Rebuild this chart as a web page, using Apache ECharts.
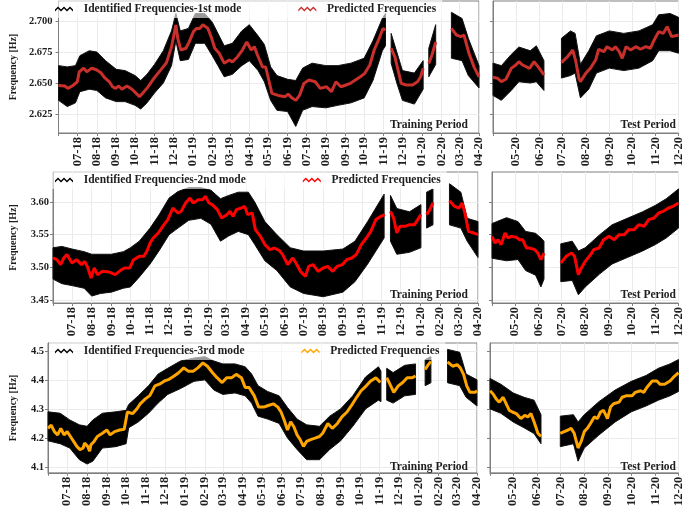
<!DOCTYPE html>
<html><head><meta charset="utf-8">
<script src="https://cdn.jsdelivr.net/npm/echarts@6/dist/echarts.min.js"></script>
<style>html,body{margin:0;padding:0;background:#fff}#c{width:685px;height:509px}</style>
</head><body><div id="c"></div>
<script>
// ---------------- DATA ----------------
const ticks1 = [2.625, 2.650, 2.675, 2.700];
const ticks2 = [3.45, 3.50, 3.55, 3.60];
const ticks3 = [4.1, 4.2, 4.3, 4.4, 4.5];

const trainRange = ['2018-06-01', '2020-04-01'];
const testRange = ['2020-04-01', '2020-12-01'];

const legendNames = ['Identified Frequencies-1st mode', 'Identified Frequencies-2nd mode', 'Identified Frequencies-3rd mode'];
const predName = 'Predicted Frequencies';
const periodNames = ['Training Period', 'Test Period'];

// predicted frequencies, mode 1
const pred1Train = [
['2018-06-01',2.648],['2018-06-11',2.6476],['2018-06-16',2.6457],['2018-06-24',2.648],['2018-07-01',2.651],['2018-07-04',2.659],['2018-07-11',2.662],['2018-07-16',2.659],['2018-07-24',2.662],['2018-08-01',2.6605],['2018-08-08',2.658],['2018-08-13',2.6546],['2018-08-21',2.651],['2018-08-26',2.647],['2018-08-31',2.6457],['2018-09-05',2.6476],['2018-09-10',2.645],['2018-09-18',2.6476],['2018-09-26',2.645],['2018-10-02',2.642],['2018-10-08',2.639],['2018-10-13',2.6417],['2018-10-21',2.6465],['2018-10-31',2.6538],['2018-11-10',2.660],['2018-11-20',2.6664],['2018-11-28',2.679],['2018-12-05',2.6968],['2018-12-08',2.686],['2018-12-13',2.6766],['2018-12-21',2.678],['2018-12-26',2.683],['2019-01-02',2.6914],['2019-01-07',2.694],['2019-01-12',2.694],['2019-01-17',2.697],['2019-01-25',2.694],['2019-01-31',2.686],['2019-02-05',2.678],['2019-02-12',2.674],['2019-02-20',2.666],['2019-02-28',2.6685],['2019-03-05',2.667],['2019-03-13',2.671],['2019-03-21',2.6766],['2019-03-28',2.683],['2019-04-04',2.6766],['2019-04-09',2.6793],['2019-04-14',2.6726],['2019-04-22',2.663],['2019-04-27',2.663],['2019-05-02',2.6524],['2019-05-07',2.6416],['2019-05-17',2.640],['2019-05-28',2.639],['2019-06-02',2.641],['2019-06-07',2.6384],['2019-06-14',2.636],['2019-06-20',2.640],['2019-06-27',2.6497],['2019-07-05',2.6524],['2019-07-15',2.651],['2019-07-23',2.6457],['2019-08-02',2.647],['2019-08-10',2.643],['2019-08-17',2.651],['2019-08-25',2.647],['2019-09-02',2.6484],['2019-09-09',2.6497],['2019-09-17',2.6524],['2019-09-25',2.655],['2019-10-02',2.6578],['2019-10-10',2.6645],['2019-10-17',2.6766],['2019-10-25',2.686],['2019-10-31',2.694],['2019-11-04',2.6927],['2019-11-08',null],['2019-11-13',2.678],['2019-11-19',2.671],['2019-11-24',2.6605],['2019-11-29',2.6497],['2019-12-07',2.6484],['2019-12-17',2.6484],['2019-12-25',2.651],['2019-12-30',2.655],['2020-01-03',2.6618],['2020-01-07',null],['2020-01-12',2.6658],['2020-01-17',2.6726],['2020-01-23',2.683],['2020-02-05',null],['2020-02-17',2.694],['2020-02-25',2.6887],['2020-03-03',2.6874],['2020-03-08',2.6887],['2020-03-16',2.674],['2020-03-24',2.663],['2020-04-01',2.655]
];
const pred1Test = [
['2020-04-01',2.6546],['2020-04-07',2.6538],['2020-04-12',2.6511],['2020-04-18',2.653],['2020-04-25',2.6618],['2020-05-01',2.6645],['2020-05-05',2.6672],['2020-05-10',2.6645],['2020-05-19',2.6618],['2020-05-25',2.6672],['2020-06-01',2.6618],['2020-06-07',2.6565],['2020-06-18',null],['2020-06-30',2.6664],['2020-07-08',2.6712],['2020-07-15',2.6766],['2020-07-19',2.6672],['2020-07-23',2.6538],['2020-07-25',2.6511],['2020-08-01',2.6578],['2020-08-07',2.6618],['2020-08-14',2.6685],['2020-08-18',2.6772],['2020-08-25',2.6753],['2020-08-29',2.6793],['2020-09-05',2.6766],['2020-09-09',2.6793],['2020-09-14',2.6753],['2020-09-18',2.6699],['2020-09-23',2.6793],['2020-09-29',2.6766],['2020-10-06',2.6793],['2020-10-12',2.6772],['2020-10-19',2.6793],['2020-10-25',2.678],['2020-10-30',2.6847],['2020-11-05',2.6914],['2020-11-11',2.690],['2020-11-16',2.6954],['2020-11-22',2.6874],['2020-12-01',2.6887]
];
// identified frequencies (cloud envelope: date, lower, upper), mode 1
const cloud1Train = [
['2018-06-01',2.636,2.664],['2018-06-15',2.631,2.663],['2018-06-28',2.634,2.664],['2018-07-05',2.643,2.672],['2018-07-20',2.645,2.676],['2018-08-01',2.644,2.675],['2018-08-15',2.638,2.668],['2018-09-01',2.635,2.661],['2018-09-15',2.635,2.660],['2018-10-01',2.632,2.656],['2018-10-10',2.629,2.652],['2018-10-20',2.634,2.657],['2018-11-01',2.642,2.665],['2018-11-15',2.650,2.676],['2018-11-28',2.664,2.692],['2018-12-05',2.684,2.706],['2018-12-12',2.668,2.692],['2018-12-25',2.669,2.694],['2019-01-05',2.682,2.706],['2019-01-20',2.682,2.706],['2019-02-01',2.672,2.699],['2019-02-10',2.664,2.690],['2019-02-20',2.655,2.680],['2019-03-05',2.657,2.682],['2019-03-20',2.664,2.692],['2019-04-01',2.668,2.697],['2019-04-15',2.660,2.688],['2019-04-25',2.651,2.681],['2019-05-05',2.636,2.663],['2019-05-15',2.628,2.656],['2019-06-01',2.627,2.653],['2019-06-14',2.615,2.652],['2019-06-25',2.628,2.662],['2019-07-10',2.631,2.666],['2019-08-01',2.630,2.664],['2019-08-20',2.632,2.664],['2019-09-10',2.634,2.666],['2019-10-01',2.638,2.670],['2019-10-15',2.652,2.684],['2019-10-30',2.676,2.702],['2019-11-04',2.680,2.706],['2019-11-08',null,null],['2019-11-13',2.666,2.690],['2019-11-22',2.650,2.675],['2019-12-01',2.636,2.660],['2019-12-20',2.633,2.658],['2020-01-03',2.645,2.668],['2020-01-07',null,null],['2020-01-12',2.655,2.678],['2020-01-23',2.665,2.697],['2020-02-05',null,null],['2020-02-17',2.670,2.707],['2020-03-05',2.668,2.702],['2020-03-15',2.656,2.686],['2020-04-01',2.646,2.664]
];
const cloud1Test = [
['2020-04-01',2.640,2.666],['2020-04-12',2.636,2.664],['2020-04-25',2.644,2.673],['2020-05-05',2.651,2.679],['2020-05-20',2.650,2.676],['2020-05-28',2.651,2.680],['2020-06-07',2.644,2.668],['2020-06-18',null,null],['2020-06-30',2.654,2.686],['2020-07-12',2.656,2.692],['2020-07-18',2.658,2.690],['2020-07-25',2.638,2.665],['2020-08-05',2.645,2.676],['2020-08-15',2.658,2.688],['2020-09-01',2.662,2.692],['2020-09-20',2.660,2.690],['2020-10-10',2.662,2.692],['2020-10-28',2.668,2.697],['2020-11-05',2.676,2.705],['2020-11-20',2.676,2.706],['2020-12-01',2.674,2.703]
];

// mode 2
const pred2Train = [
['2018-06-01',3.5143],['2018-06-07',3.5117],['2018-06-13',3.5041],['2018-06-18',3.5143],['2018-06-23',3.5194],['2018-07-01',3.5066],['2018-07-08',3.5117],['2018-07-16',3.5041],['2018-07-21',3.5092],['2018-07-26',3.499],['2018-07-31',3.4837],['2018-08-05',3.499],['2018-08-10',3.4888],['2018-08-18',3.4939],['2018-08-28',3.4929],['2018-09-07',3.4888],['2018-09-17',3.4964],['2018-09-22',3.499],['2018-09-30',3.499],['2018-10-06',3.5117],['2018-10-15',3.5168],['2018-10-22',3.5168],['2018-10-27',3.5245],['2018-11-01',3.5372],['2018-11-06',3.5449],['2018-11-14',3.5526],['2018-11-21',3.5628],['2018-11-29',3.573],['2018-12-07',3.5908],['2018-12-15',3.5832],['2018-12-20',3.5857],['2018-12-27',3.5985],['2019-01-03',3.6061],['2019-01-08',3.5985],['2019-01-16',3.6036],['2019-01-23',3.6036],['2019-01-27',3.6087],['2019-02-02',3.5985],['2019-02-07',3.5959],['2019-02-15',3.5883],['2019-02-22',3.5755],['2019-03-02',3.5806],['2019-03-07',3.5857],['2019-03-12',3.578],['2019-03-17',3.5883],['2019-03-25',3.5908],['2019-03-30',3.5934],['2019-04-04',3.5806],['2019-04-11',3.5832],['2019-04-16',3.5577],['2019-04-24',3.5474],['2019-05-01',3.5347],['2019-05-09',3.527],['2019-05-16',3.5296],['2019-05-24',3.5255],['2019-05-29',3.5194],['2019-06-06',3.5041],['2019-06-14',3.5143],['2019-06-19',3.5066],['2019-06-26',3.4939],['2019-07-04',3.4862],['2019-07-09',3.5015],['2019-07-16',3.5041],['2019-07-24',3.4939],['2019-08-01',3.499],['2019-08-08',3.5015],['2019-08-16',3.4939],['2019-08-23',3.5015],['2019-08-31',3.5041],['2019-09-07',3.5117],['2019-09-15',3.5143],['2019-09-22',3.5194],['2019-09-30',3.5347],['2019-10-08',3.5449],['2019-10-15',3.5551],['2019-10-23',3.573],['2019-10-31',3.578],['2019-11-06',3.5806],['2019-11-10',null],['2019-11-15',3.5857],['2019-11-20',3.5755],['2019-11-25',3.5526],['2019-11-30',3.5628],['2019-12-08',3.5628],['2019-12-15',3.5653],['2019-12-23',3.5653],['2019-12-28',3.573],['2020-01-02',3.5806],['2020-01-06',null],['2020-01-11',3.5806],['2020-01-16',3.5883],['2020-01-21',3.5985],['2020-02-05',null],['2020-02-16',3.602],['2020-02-24',3.5934],['2020-03-02',3.5908],['2020-03-07',3.5985],['2020-03-12',3.5806],['2020-03-17',3.5551],['2020-03-25',3.5526],['2020-04-01',3.55]
];
const pred2Test = [
['2020-04-01',3.5474],['2020-04-05',3.5372],['2020-04-09',3.5423],['2020-04-13',3.5347],['2020-04-18',3.5526],['2020-04-22',3.5449],['2020-04-26',3.5474],['2020-05-03',3.5459],['2020-05-07',3.5423],['2020-05-11',3.5423],['2020-05-16',3.5296],['2020-05-20',3.5296],['2020-05-27',3.527],['2020-05-31',3.5219],['2020-06-04',3.5117],['2020-06-08',3.5219],['2020-06-18',null],['2020-06-30',3.5066],['2020-07-07',3.5168],['2020-07-14',3.5219],['2020-07-18',3.5168],['2020-07-23',3.4888],['2020-07-27',3.499],['2020-08-01',3.5092],['2020-08-08',3.5194],['2020-08-12',3.527],['2020-08-19',3.5296],['2020-08-25',3.5423],['2020-09-01',3.5474],['2020-09-08',3.5423],['2020-09-14',3.55],['2020-09-21',3.55],['2020-09-27',3.5577],['2020-10-04',3.5577],['2020-10-10',3.5653],['2020-10-17',3.5628],['2020-10-23',3.573],['2020-10-30',3.5755],['2020-11-05',3.5832],['2020-11-11',3.5857],['2020-11-18',3.5908],['2020-11-24',3.5934],['2020-12-01',3.5985]
];
const cloud2Train = [
['2018-06-01',3.482,3.530],['2018-06-15',3.475,3.532],['2018-07-01',3.472,3.528],['2018-07-20',3.468,3.524],['2018-08-01',3.456,3.520],['2018-08-15',3.460,3.520],['2018-09-01',3.462,3.520],['2018-09-20',3.468,3.524],['2018-10-01',3.470,3.530],['2018-10-15',3.485,3.540],['2018-11-01',3.505,3.560],['2018-11-15',3.525,3.580],['2018-12-01',3.550,3.606],['2018-12-15',3.560,3.616],['2019-01-01',3.572,3.622],['2019-01-20',3.575,3.622],['2019-02-05',3.566,3.618],['2019-02-20',3.540,3.605],['2019-03-05',3.548,3.610],['2019-03-20',3.555,3.615],['2019-04-05',3.550,3.615],['2019-04-15',3.535,3.600],['2019-05-01',3.510,3.570],['2019-05-20',3.495,3.550],['2019-06-10',3.470,3.530],['2019-07-01',3.460,3.525],['2019-08-01',3.455,3.525],['2019-09-01',3.462,3.528],['2019-09-20',3.478,3.540],['2019-10-10',3.505,3.570],['2019-11-05',3.545,3.612],['2019-11-10',null,null],['2019-11-15',3.540,3.610],['2019-11-25',3.520,3.590],['2019-12-15',3.523,3.585],['2020-01-02',3.530,3.596],['2020-01-06',null,null],['2020-01-11',3.560,3.615],['2020-01-21',3.565,3.620],['2020-02-05',null,null],['2020-02-16',3.565,3.628],['2020-03-05',3.560,3.615],['2020-03-15',3.540,3.575],['2020-04-01',3.515,3.570]
];
const cloud2Test = [
['2020-04-01',3.514,3.567],['2020-04-20',3.510,3.576],['2020-05-05',3.512,3.570],['2020-05-15',3.495,3.555],['2020-05-28',3.488,3.552],['2020-06-04',3.470,3.545],['2020-06-08',3.482,3.540],['2020-06-18',null,null],['2020-06-30',3.478,3.536],['2020-07-15',3.480,3.540],['2020-07-23',3.458,3.525],['2020-08-01',3.470,3.530],['2020-08-20',3.490,3.550],['2020-09-05',3.505,3.565],['2020-09-25',3.515,3.575],['2020-10-15',3.525,3.585],['2020-11-01',3.535,3.595],['2020-11-15',3.545,3.605],['2020-12-01',3.560,3.620]
];

// mode 3
const pred3Train = [
['2018-06-01',4.233],['2018-06-06',4.2442],['2018-06-11',4.2217],['2018-06-16',4.2104],['2018-06-21',4.233],['2018-06-26',4.2104],['2018-07-01',4.2217],['2018-07-06',4.2048],['2018-07-11',4.1879],['2018-07-16',4.171],['2018-07-21',4.1597],['2018-07-26',4.1653],['2018-07-28',4.1822],['2018-08-02',4.171],['2018-08-05',4.1541],['2018-08-07',4.1766],['2018-08-12',4.1879],['2018-08-17',4.2048],['2018-08-25',4.216],['2018-09-01',4.2273],['2018-09-06',4.2104],['2018-09-13',4.2217],['2018-09-21',4.2273],['2018-09-28',4.2296],['2018-10-03',4.2893],['2018-10-11',4.2837],['2018-10-18',4.3006],['2018-10-23',4.3175],['2018-10-31',4.3344],['2018-11-07',4.3456],['2018-11-15',4.3794],['2018-11-22',4.3851],['2018-11-30',4.3963],['2018-12-07',4.402],['2018-12-15',4.4132],['2018-12-22',4.4245],['2018-12-30',4.4414],['2019-01-06',4.4301],['2019-01-14',4.4301],['2019-01-21',4.4414],['2019-01-29',4.4583],['2019-02-05',4.447],['2019-02-13',4.4245],['2019-02-20',4.4076],['2019-02-28',4.3907],['2019-03-07',4.4076],['2019-03-15',4.4076],['2019-03-22',4.4189],['2019-03-30',4.4076],['2019-04-05',4.3738],['2019-04-11',4.3738],['2019-04-19',4.3456],['2019-04-26',4.3062],['2019-05-04',4.3062],['2019-05-11',4.3118],['2019-05-19',4.3175],['2019-05-26',4.3062],['2019-05-31',4.2893],['2019-06-05',4.2611],['2019-06-10',4.2273],['2019-06-15',4.2555],['2019-06-20',4.2386],['2019-06-25',4.2104],['2019-06-30',4.1935],['2019-07-05',4.171],['2019-07-10',4.1879],['2019-07-15',4.1935],['2019-07-23',4.1991],['2019-07-30',4.2048],['2019-08-04',4.216],['2019-08-12',4.2498],['2019-08-19',4.233],['2019-08-27',4.2498],['2019-09-03',4.2724],['2019-09-11',4.2893],['2019-09-18',4.3118],['2019-09-26',4.34],['2019-10-03',4.3625],['2019-10-11',4.3794],['2019-10-18',4.3963],['2019-10-26',4.4076],['2019-11-02',4.3907],['2019-11-07',null],['2019-11-12',4.4076],['2019-11-17',4.3851],['2019-11-23',4.3569],['2019-11-30',4.3794],['2019-12-07',4.3907],['2019-12-14',4.4076],['2019-12-22',4.4076],['2019-12-27',4.4132],['2020-01-04',null],['2020-01-11',4.4358],['2020-01-16',4.4527],['2020-01-20',4.4639],['2020-02-03',null],['2020-02-15',4.4617],['2020-02-23',4.447],['2020-03-01',4.4527],['2020-03-06',4.4414],['2020-03-11',4.4189],['2020-03-16',4.3794],['2020-03-21',4.3569],['2020-03-29',4.3569],['2020-04-01',4.3625]
];
const pred3Test = [
['2020-04-01',4.3625],['2020-04-05',4.3513],['2020-04-09',4.3344],['2020-04-13',4.3231],['2020-04-18',4.34],['2020-04-22',4.3175],['2020-04-26',4.2949],['2020-04-30',4.2893],['2020-05-05',4.2837],['2020-05-11',4.2667],['2020-05-16',4.278],['2020-05-20',4.2724],['2020-05-24',4.2837],['2020-05-28',4.2555],['2020-06-02',4.216],['2020-06-06',4.2048],['2020-06-18',null],['2020-07-01',4.216],['2020-07-06',4.2217],['2020-07-11',4.2273],['2020-07-15',4.233],['2020-07-19',4.216],['2020-07-24',4.1653],['2020-07-28',4.1879],['2020-08-01',4.2217],['2020-08-05',4.233],['2020-08-09',4.2498],['2020-08-14',4.2724],['2020-08-18',4.2667],['2020-08-22',4.2893],['2020-08-26',4.2949],['2020-08-31',4.2667],['2020-09-04',4.3062],['2020-09-08',4.3175],['2020-09-15',4.3231],['2020-09-19',4.34],['2020-09-25',4.3456],['2020-10-02',4.3456],['2020-10-06',4.3569],['2020-10-13',4.3625],['2020-10-17',4.3569],['2020-10-21',4.3738],['2020-10-28',4.3963],['2020-11-03',4.3963],['2020-11-07',4.3851],['2020-11-13',4.3851],['2020-11-20',4.3963],['2020-11-26',4.4132],['2020-12-01',4.4245]
];
const cloud3Train = [
['2018-06-01',4.190,4.290],['2018-06-20',4.180,4.285],['2018-07-05',4.165,4.262],['2018-07-20',4.125,4.245],['2018-08-01',4.110,4.240],['2018-08-10',4.120,4.262],['2018-08-25',4.165,4.285],['2018-09-15',4.170,4.290],['2018-10-01',4.180,4.295],['2018-10-05',4.235,4.315],['2018-10-20',4.255,4.345],['2018-11-05',4.285,4.380],['2018-11-20',4.320,4.420],['2018-12-05',4.350,4.440],['2018-12-25',4.370,4.465],['2019-01-15',4.395,4.475],['2019-02-01',4.400,4.480],['2019-02-15',4.365,4.465],['2019-03-01',4.350,4.455],['2019-03-20',4.355,4.455],['2019-04-05',4.345,4.445],['2019-04-15',4.320,4.420],['2019-04-25',4.275,4.380],['2019-05-10',4.265,4.360],['2019-05-28',4.250,4.345],['2019-06-10',4.200,4.305],['2019-06-25',4.160,4.265],['2019-07-10',4.125,4.245],['2019-07-30',4.125,4.240],['2019-08-15',4.160,4.275],['2019-09-01',4.190,4.300],['2019-09-20',4.240,4.345],['2019-10-10',4.300,4.410],['2019-10-30',4.330,4.445],['2019-11-03',4.325,4.430],['2019-11-07',null,null],['2019-11-12',4.330,4.440],['2019-11-22',4.320,4.425],['2019-12-10',4.345,4.450],['2019-12-27',4.350,4.455],['2020-01-04',null,null],['2020-01-11',4.380,4.470],['2020-01-20',4.390,4.480],['2020-02-03',null,null],['2020-02-15',4.390,4.505],['2020-03-05',4.380,4.495],['2020-03-15',4.340,4.420],['2020-04-01',4.310,4.400]
];
const cloud3Test = [
['2020-04-01',4.300,4.405],['2020-04-15',4.285,4.385],['2020-05-01',4.255,4.355],['2020-05-15',4.235,4.340],['2020-05-28',4.215,4.330],['2020-06-06',4.180,4.280],['2020-06-18',null,null],['2020-07-01',4.170,4.275],['2020-07-18',4.180,4.280],['2020-07-24',4.120,4.255],['2020-08-01',4.165,4.280],['2020-08-20',4.210,4.325],['2020-09-10',4.255,4.365],['2020-10-01',4.290,4.395],['2020-10-20',4.310,4.415],['2020-11-05',4.330,4.440],['2020-11-20',4.345,4.455],['2020-12-01',4.360,4.470]
];

// ---------------- LAYOUT / STYLE ----------------
const FONT = '"Liberation Serif", "Times New Roman", serif';
const TXT = '#1e1e1e';
const FRAME = '#7f7f7f';
const GRIDC = '#ebebeb';
const WAVE = 'path://M0,4 L3,1 L6,4 L9,1 L12,4 L15,1 L18,4 L18,6 L15,3 L12,6 L9,3 L6,6 L3,3 L0,6 Z';

const rows = [
  {top:1, height:132, leftL:40, widthL:439, leftR:493, widthR:187, ymin:2.6097, ymax:2.7161, ticks:ticks1, dec:3,
   color:'#c9302c', pred:[pred1Train, pred1Test], cloud:[cloud1Train, cloud1Test], nameGap:40, labMargin:6, legTop:0},
  {top:172, height:131, leftL:35, widthL:443, leftR:492, widthR:188, ymin:3.4454, ymax:3.6459, ticks:ticks2, dec:2,
   color:'#ff0000', pred:[pred2Train, pred2Test], cloud:[cloud2Train, cloud2Test], nameGap:35, labMargin:4, legTop:171},
  {top:343, height:132, leftL:30, widthL:447, leftR:490, widthR:190, ymin:4.0797, ymax:4.527, ticks:ticks3, dec:1,
   color:'#ffa500', pred:[pred3Train, pred3Test], cloud:[cloud3Train, cloud3Test], nameGap:30, labMargin:4, legTop:342}
];

const toT = s => echarts.number.parseDate(s).getTime();
function monthFormatter(minT) {
  return function (v) {
    if (v <= minT + 864e5) return '';
    const d = new Date(v);
    const m = d.getMonth() + 1;
    return (m < 10 ? '0' : '') + m + '-' + String(d.getFullYear()).slice(2);
  };
}

function bandSeries(data, idx) {
  const dd = data.map(r => [toT(r[0]), r[1], r[2]]);
  return {
    type: 'custom', name: 'cloud' + idx, xAxisIndex: idx, yAxisIndex: idx, z: 2, silent: true,
    data: dd, encode: {x: 0, y: [1, 2]},
    renderItem(params, api) {
      const i = params.dataIndex;
      if (dd[i][1] == null) return null;
      if (i > 0 && dd[i - 1][1] != null) return null;
      const top = [], bot = [];
      for (let j = i; j < dd.length && dd[j][1] != null; j++) {
        top.push(api.coord([dd[j][0], dd[j][2]]));
        bot.unshift(api.coord([dd[j][0], dd[j][1]]));
      }
      return {type: 'polygon', shape: {points: top.concat(bot)},
        style: {fill: '#000', stroke: '#111', lineWidth: 1}};
    }
  };
}

const grid = [], xAxis = [], yAxis = [], series = [], legend = [], graphic = [];
rows.forEach((r, ri) => {
  [0, 1].forEach(side => {
    const idx = ri * 2 + side;
    const isL = side === 0;
    grid.push({left: isL ? r.leftL : r.leftR, top: r.top, width: isL ? r.widthL : r.widthR, height: r.height,
      show: true, borderColor: FRAME, borderWidth: 1, backgroundColor: '#fff'});
    const range = isL ? trainRange : testRange;
    const minT = toT(range[0]);
    xAxis.push({type: 'time', gridIndex: idx, min: minT, max: toT(range[1]),
      splitNumber: isL ? 22 : 8, minInterval: 27 * 864e5, maxInterval: 32 * 864e5,
      axisLine: {show: true, lineStyle: {color: FRAME}},
      axisTick: {show: true, length: 3, lineStyle: {color: FRAME}},
      axisLabel: {rotate: 90, margin: 4, fontFamily: FONT, fontWeight: 'bold', fontSize: 12.5, color: TXT,
        showMinLabel: false, showMaxLabel: true, hideOverlap: false, formatter: monthFormatter(minT)},
      splitLine: {show: true, lineStyle: {color: GRIDC, width: 1}}
    });
    yAxis.push({type: 'value', gridIndex: idx, min: r.ymin, max: r.ymax,
      name: isL ? 'Frequency [Hz]' : '', nameLocation: 'middle', nameGap: r.nameGap,
      nameTextStyle: {fontFamily: FONT, fontWeight: 'bold', fontSize: 10, color: TXT},
      axisLine: {show: true, lineStyle: {color: FRAME}},
      axisTick: {show: true, length: 3, lineStyle: {color: FRAME}, customValues: r.ticks},
      axisLabel: {show: isL, customValues: r.ticks, margin: r.labMargin, fontFamily: FONT, fontWeight: 'bold',
        fontSize: 10.5, color: TXT, formatter: v => Number(v).toFixed(r.dec)},
      splitLine: {show: true, lineStyle: {color: GRIDC, width: 1}}
    });
    series.push(Object.assign(bandSeries(r.cloud[side], idx), {name: isL ? legendNames[ri] : 'cloudR' + ri}));
    series.push({type: 'line', name: isL ? predName : 'predR' + ri, xAxisIndex: idx, yAxisIndex: idx, z: 3,
      data: r.pred[side].map(p => [toT(p[0]), p[1]]), showSymbol: false, symbol: 'none', connectNulls: false,
      silent: true, lineStyle: {width: 3, color: r.color}, itemStyle: {color: r.color}});
    graphic.push({type: 'text', right: isL ? 217 : 9, top: r.top + r.height - 14,
      style: {text: periodNames[side], font: 'bold 11.5px ' + FONT, fill: TXT}, z: 10});
  });
  legend.push({left: 49, top: r.legTop, itemGap: 57, itemWidth: 18, itemHeight: 5, selectedMode: false,
    backgroundColor: 'rgba(255,255,255,0.6)', padding: [3, 6, 3, 6],
    formatter: n => '  ' + n,
    textStyle: {fontFamily: FONT, fontWeight: 'bold', fontSize: 11.5, color: TXT},
    data: [{name: legendNames[ri], icon: WAVE, itemStyle: {color: '#000'}},
           {name: predName, icon: WAVE, itemStyle: {color: r.color}}]});
});

const chart = echarts.init(document.getElementById('c'), null, {renderer: 'canvas'});
chart.setOption({animation: false, backgroundColor: '#fff', grid, xAxis, yAxis, series, legend, graphic});
</script>
</body></html>
